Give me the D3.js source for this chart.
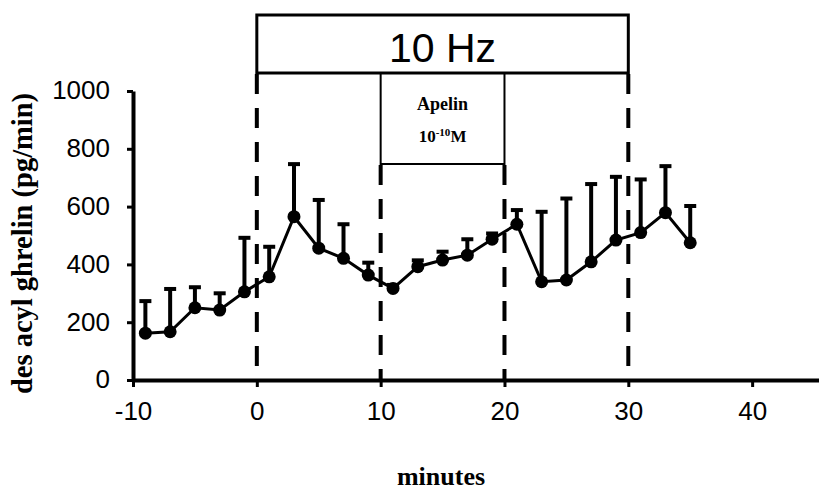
<!DOCTYPE html>
<html>
<head>
<meta charset="utf-8">
<script src="https://cdn.jsdelivr.net/npm/d3@7"></script>
<style>
  html, body { margin: 0; padding: 0; background: #fff; }
  svg { display: block; }
</style>
</head>
<body>
<svg id="chart" width="819" height="492"></svg>
<script>
// Sampling times (minutes) and des-acyl ghrelin output (pg/min), mean and SEM
const minutes = [-9, -7, -5, -3, -1, 1, 3, 5, 7, 9, 11, 13, 15, 17, 19, 21, 23, 25, 27, 29, 31, 33, 35];
const meanValues = [162, 167, 250, 242, 305, 357, 565, 456, 421, 363, 317, 392, 415, 432, 487, 539, 340, 346, 409, 484, 510, 579, 475];
const semValues = [111, 148, 71, 58, 187, 104, 182, 167, 118, 43, 12, 22, 29, 55, 20, 49, 242, 282, 269, 219, 184, 161, 127];

const xTicks = [-10, 0, 10, 20, 30, 40];
const yTicks = [0, 200, 400, 600, 800, 1000];

// Stimulation periods
const stimPeriod = [0, 30];
const apelinPeriod = [10, 20];
const periodMarks = [0, 10, 20, 30];

const svg = d3.select("#chart");
const W = 819, H = 492;
const mLeft = 133, mRight = W, mTop = 91, mBottom = 380;

const x = d3.scaleLinear().domain([-10, 45.4]).range([mLeft, mRight]);
const y = d3.scaleLinear().domain([0, 1000]).range([mBottom, mTop]);

const sans = "'Liberation Sans', Arial, Helvetica, sans-serif";
const serif = "'Liberation Serif', 'Times New Roman', Times, serif";

// Boxes marking stimulation periods
const boxTop = 15, boxMid = 73, boxLow = 164;
svg.append("rect")
  .attr("x", x(stimPeriod[0])).attr("y", boxTop)
  .attr("width", x(stimPeriod[1]) - x(stimPeriod[0]))
  .attr("height", boxMid - boxTop)
  .attr("fill", "none").attr("stroke", "#000").attr("stroke-width", 3);
svg.append("text")
  .attr("x", (x(stimPeriod[0]) + x(stimPeriod[1])) / 2)
  .attr("y", 62)
  .attr("text-anchor", "middle")
  .attr("font-family", sans).attr("font-size", 41)
  .text("10 Hz");

svg.append("rect")
  .attr("x", x(apelinPeriod[0])).attr("y", boxMid)
  .attr("width", x(apelinPeriod[1]) - x(apelinPeriod[0]))
  .attr("height", boxLow - boxMid)
  .attr("fill", "none").attr("stroke", "#000").attr("stroke-width", 2);
const apCx = (x(apelinPeriod[0]) + x(apelinPeriod[1])) / 2;
svg.append("text")
  .attr("x", apCx).attr("y", 110)
  .attr("text-anchor", "middle")
  .attr("font-family", serif).attr("font-weight", "bold").attr("font-size", 18)
  .text("Apelin");
const conc = svg.append("text")
  .attr("x", apCx).attr("y", 142)
  .attr("text-anchor", "middle")
  .attr("font-family", serif).attr("font-weight", "bold").attr("font-size", 17);
conc.append("tspan").text("10");
conc.append("tspan").attr("font-size", 11).attr("dy", -6).text("-10");
conc.append("tspan").attr("dy", 6).text("M");

// Dashed period boundaries
svg.selectAll("line.period")
  .data(periodMarks)
  .join("line")
  .attr("class", "period")
  .attr("x1", d => x(d)).attr("x2", d => x(d))
  .attr("y1", d => (d === 10 || d === 20) ? boxLow + 1 : boxMid + 1)
  .attr("y2", y(0))
  .attr("stroke", "#000").attr("stroke-width", 4)
  .attr("stroke-dasharray", "20,14");

// Axes
const plain = d => String(d);
const yAxis = svg.append("g")
  .attr("transform", `translate(${mLeft},0)`)
  .call(d3.axisLeft(y).tickValues(yTicks).tickFormat(plain)
    .tickSize(6).tickSizeOuter(0).tickPadding(17));
const xAxis = svg.append("g")
  .attr("transform", `translate(0,${mBottom})`)
  .call(d3.axisBottom(x).tickValues(xTicks).tickFormat(plain)
    .tickSize(7).tickSizeOuter(0).tickPadding(15));

[yAxis, xAxis].forEach(g => {
  g.select(".domain").attr("stroke", "#000").attr("stroke-width", 4);
  g.selectAll(".tick line").attr("stroke", "#000").attr("stroke-width", 3);
  g.selectAll(".tick text")
    .attr("fill", "#000")
    .attr("font-family", sans)
    .attr("font-size", 26);
});
yAxis.selectAll(".tick text").attr("dy", "0.3em");

// Axis titles
svg.append("text")
  .attr("x", (x(-10) + x(45.4)) / 2 - 35).attr("y", 485)
  .attr("text-anchor", "middle")
  .attr("font-family", serif).attr("font-weight", "bold").attr("font-size", 26)
  .text("minutes");
svg.append("text")
  .attr("transform", `translate(32,${(mTop + mBottom) / 2 + 8}) rotate(-90)`)
  .attr("text-anchor", "middle")
  .attr("font-family", serif).attr("font-weight", "bold").attr("font-size", 28.5)
  .text("des acyl ghrelin (pg/min)");

// Series
const data = minutes.map((m, i) => ({ m, v: meanValues[i], e: semValues[i] }));

const bars = svg.append("g");
bars.selectAll("line.stem")
  .data(data).join("line")
  .attr("class", "stem")
  .attr("x1", d => x(d.m)).attr("x2", d => x(d.m))
  .attr("y1", d => y(d.v)).attr("y2", d => y(d.v + d.e))
  .attr("stroke", "#000").attr("stroke-width", 4);
bars.selectAll("line.cap")
  .data(data).join("line")
  .attr("class", "cap")
  .attr("x1", d => x(d.m) - 6).attr("x2", d => x(d.m) + 6)
  .attr("y1", d => y(d.v + d.e)).attr("y2", d => y(d.v + d.e))
  .attr("stroke", "#000").attr("stroke-width", 4);

svg.append("path")
  .datum(data)
  .attr("fill", "none").attr("stroke", "#000").attr("stroke-width", 3)
  .attr("d", d3.line().x(d => x(d.m)).y(d => y(d.v)));

svg.append("g").selectAll("circle")
  .data(data).join("circle")
  .attr("cx", d => x(d.m)).attr("cy", d => y(d.v))
  .attr("r", 6.5).attr("fill", "#000");
</script>
</body>
</html>
